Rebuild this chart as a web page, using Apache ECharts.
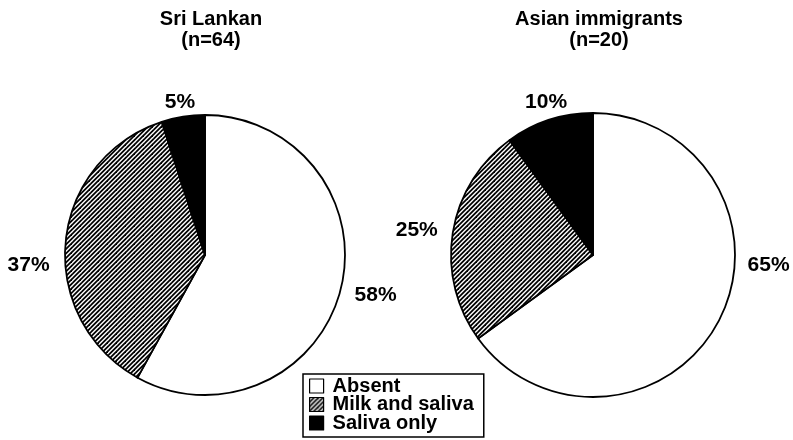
<!DOCTYPE html>
<html>
<head>
<meta charset="utf-8">
<script src="https://cdn.jsdelivr.net/npm/echarts@6/dist/echarts.min.js"></script>
<style>
html,body{margin:0;padding:0;background:#fff;}
#chart{width:793px;height:440px;}
</style>
</head>
<body>
<div id="chart"></div>
<script>
// ---- data ----
var categories = ['Absent', 'Milk and saliva', 'Saliva only'];
var sriLankanValues = [58, 37, 5];
var asianValues = [65, 25, 10];
var panelTitles = ['Sri Lankan\n(n=64)', 'Asian immigrants\n(n=20)'];

// ---- styling ----
var FONT = '"Liberation Sans", Arial, Helvetica, sans-serif';

function makeHatch() {
  var s = 9;
  var c = document.createElement('canvas');
  c.width = s; c.height = s;
  var ctx = c.getContext('2d');
  ctx.fillStyle = '#fff';
  ctx.fillRect(0, 0, s, s);
  ctx.strokeStyle = '#000';
  ctx.lineWidth = 1.8;
  ctx.lineCap = 'square';
  for (var k = -2; k <= 6; k++) {
    var off = k * 4.5;
    ctx.beginPath();
    ctx.moveTo(off - s, s + s);
    ctx.lineTo(off + s + s, -s);
    ctx.stroke();
  }
  return c;
}
var hatch = { image: makeHatch(), repeat: 'repeat' };
var fills = ['#ffffff', hatch, '#000000'];

// label offsets (style only)
var leftOffsets = [[14, 5], [-16, 23], [12, -15]];
var rightOffsets = [[28, -54], [-15, -3], [18, -18]];

function buildData(values, offsets) {
  return categories.map(function (name, i) {
    return {
      name: name,
      value: values[i],
      itemStyle: { color: fills[i], borderColor: '#000', borderWidth: 1.8 },
      label: { offset: offsets[i] }
    };
  });
}

function pieSeries(values, offsets, center, radius) {
  return {
    type: 'pie',
    center: center,
    radius: radius,
    startAngle: 90,
    clockwise: true,
    avoidLabelOverlap: false,
    animation: false,
    silent: true,
    label: {
      show: true,
      position: 'outside',
      formatter: '{c}%',
      color: '#000',
      fontFamily: FONT,
      fontWeight: 'bold',
      fontSize: 21,
      distanceToLabelLine: 0
    },
    labelLine: { show: false, length: 0, length2: 0 },
    emphasis: { disabled: true },
    data: buildData(values, offsets)
  };
}

var titleText = { fontFamily: FONT, fontSize: 20, fontWeight: 'bold', color: '#000', lineHeight: 21, align: 'center' };

var chart = echarts.init(document.getElementById('chart'), null, { renderer: 'canvas' });
chart.setOption({
  backgroundColor: '#fff',
  animation: false,
  title: [
    { text: panelTitles[0], left: 206, top: 4, textAlign: 'center', textStyle: titleText },
    { text: panelTitles[1], left: 594, top: 4, textAlign: 'center', textStyle: titleText }
  ],
  legend: {
    orient: 'vertical',
    left: 303,
    top: 374,
    height: 90,
    padding: [2, 10, 4, 6],
    itemGap: -1.5,
    itemWidth: 14,
    itemHeight: 14,
    borderColor: '#000',
    borderWidth: 1.5,
    borderRadius: 0,
    icon: 'rect',
    selectedMode: false,
    data: categories,
    itemStyle: { borderColor: '#000', borderWidth: 1.2 },
    textStyle: { fontFamily: FONT, fontSize: 20, fontWeight: 'bold', color: '#000', lineHeight: 18, padding: [0, 0, 0, 4] }
  },
  series: [
    pieSeries(sriLankanValues, leftOffsets, [205, 255], 140),
    pieSeries(asianValues, rightOffsets, [593, 255], 142)
  ]
});
</script>
</body>
</html>
